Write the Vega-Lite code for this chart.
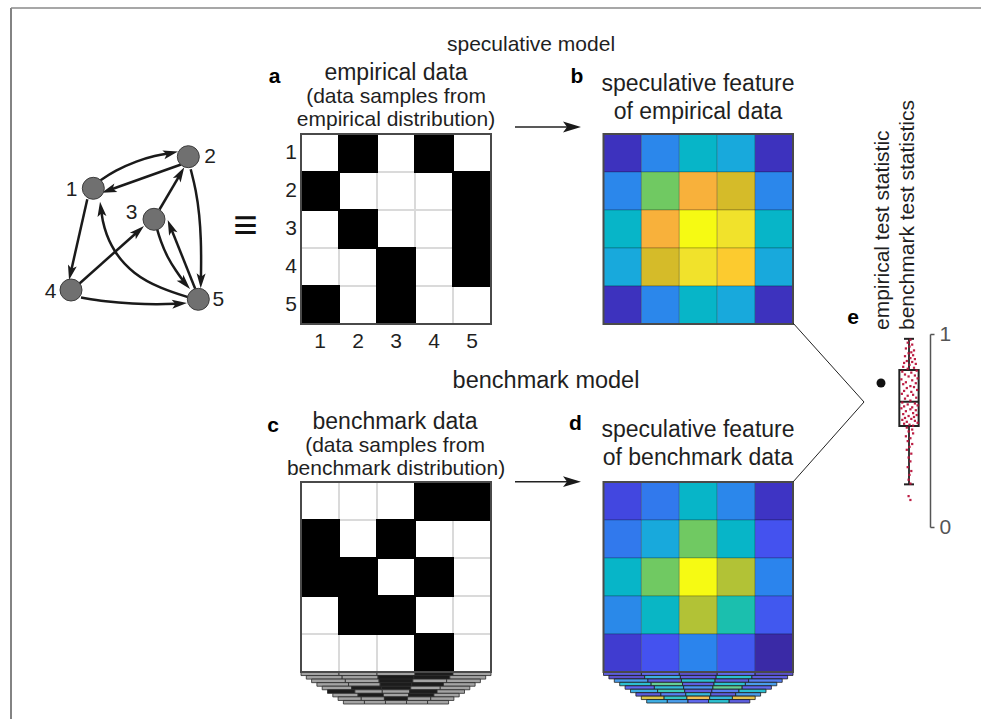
{
"$schema":"https://vega.github.io/schema/vega-lite/v6.json",
"width":981,"height":719,"padding":0,"autosize":{"type":"none"},
"background":"#ffffff",
"config":{"view":{"stroke":null},"font":"Liberation Sans","text":{"font":"Liberation Sans","color":"#1f1f1f"}},
"datasets":{
"idx":[{"i":1},{"i":2},{"i":3},{"i":4},{"i":5}],
"ma":[{"r":1,"c":1,"v":0},{"r":1,"c":2,"v":1},{"r":1,"c":3,"v":0},{"r":1,"c":4,"v":1},{"r":1,"c":5,"v":0},
{"r":2,"c":1,"v":1},{"r":2,"c":2,"v":0},{"r":2,"c":3,"v":0},{"r":2,"c":4,"v":0},{"r":2,"c":5,"v":1},
{"r":3,"c":1,"v":0},{"r":3,"c":2,"v":1},{"r":3,"c":3,"v":0},{"r":3,"c":4,"v":0},{"r":3,"c":5,"v":1},
{"r":4,"c":1,"v":0},{"r":4,"c":2,"v":0},{"r":4,"c":3,"v":1},{"r":4,"c":4,"v":0},{"r":4,"c":5,"v":1},
{"r":5,"c":1,"v":1},{"r":5,"c":2,"v":0},{"r":5,"c":3,"v":1},{"r":5,"c":4,"v":0},{"r":5,"c":5,"v":0}],
"mc":[{"r":1,"c":1,"v":0},{"r":1,"c":2,"v":0},{"r":1,"c":3,"v":0},{"r":1,"c":4,"v":1},{"r":1,"c":5,"v":1},
{"r":2,"c":1,"v":1},{"r":2,"c":2,"v":0},{"r":2,"c":3,"v":1},{"r":2,"c":4,"v":0},{"r":2,"c":5,"v":0},
{"r":3,"c":1,"v":1},{"r":3,"c":2,"v":1},{"r":3,"c":3,"v":0},{"r":3,"c":4,"v":1},{"r":3,"c":5,"v":0},
{"r":4,"c":1,"v":0},{"r":4,"c":2,"v":1},{"r":4,"c":3,"v":1},{"r":4,"c":4,"v":0},{"r":4,"c":5,"v":0},
{"r":5,"c":1,"v":0},{"r":5,"c":2,"v":0},{"r":5,"c":3,"v":0},{"r":5,"c":4,"v":1},{"r":5,"c":5,"v":0}],
"mb":[{"r":1,"c":1,"v":0.04},{"r":1,"c":2,"v":0.27},{"r":1,"c":3,"v":0.45},{"r":1,"c":4,"v":0.37},{"r":1,"c":5,"v":0.04},
{"r":2,"c":1,"v":0.27},{"r":2,"c":2,"v":0.64},{"r":2,"c":3,"v":0.87},{"r":2,"c":4,"v":0.8},{"r":2,"c":5,"v":0.27},
{"r":3,"c":1,"v":0.45},{"r":3,"c":2,"v":0.87},{"r":3,"c":3,"v":1.0},{"r":3,"c":4,"v":0.96},{"r":3,"c":5,"v":0.45},
{"r":4,"c":1,"v":0.37},{"r":4,"c":2,"v":0.8},{"r":4,"c":3,"v":0.96},{"r":4,"c":4,"v":0.92},{"r":4,"c":5,"v":0.37},
{"r":5,"c":1,"v":0.04},{"r":5,"c":2,"v":0.27},{"r":5,"c":3,"v":0.45},{"r":5,"c":4,"v":0.37},{"r":5,"c":5,"v":0.04}],
"md":[{"r":1,"c":1,"v":0.12},{"r":1,"c":2,"v":0.23},{"r":1,"c":3,"v":0.45},{"r":1,"c":4,"v":0.27},{"r":1,"c":5,"v":0.05},
{"r":2,"c":1,"v":0.23},{"r":2,"c":2,"v":0.37},{"r":2,"c":3,"v":0.64},{"r":2,"c":4,"v":0.45},{"r":2,"c":5,"v":0.16},
{"r":3,"c":1,"v":0.45},{"r":3,"c":2,"v":0.64},{"r":3,"c":3,"v":1.0},{"r":3,"c":4,"v":0.74},{"r":3,"c":5,"v":0.25},
{"r":4,"c":1,"v":0.28},{"r":4,"c":2,"v":0.46},{"r":4,"c":3,"v":0.74},{"r":4,"c":4,"v":0.55},{"r":4,"c":5,"v":0.17},
{"r":5,"c":1,"v":0.08},{"r":5,"c":2,"v":0.16},{"r":5,"c":3,"v":0.25},{"r":5,"c":4,"v":0.17},{"r":5,"c":5,"v":0.0}],
"cs":[{"k":1,"c":1,"v":0},{"k":1,"c":2,"v":0},{"k":1,"c":3,"v":0},{"k":1,"c":4,"v":1},{"k":1,"c":5,"v":0},
{"k":2,"c":1,"v":0},{"k":2,"c":2,"v":0},{"k":2,"c":3,"v":1},{"k":2,"c":4,"v":1},{"k":2,"c":5,"v":0},
{"k":3,"c":1,"v":0},{"k":3,"c":2,"v":0},{"k":3,"c":3,"v":1},{"k":3,"c":4,"v":0},{"k":3,"c":5,"v":0},
{"k":4,"c":1,"v":0},{"k":4,"c":2,"v":0},{"k":4,"c":3,"v":1},{"k":4,"c":4,"v":1},{"k":4,"c":5,"v":0},
{"k":5,"c":1,"v":0},{"k":5,"c":2,"v":1},{"k":5,"c":3,"v":1},{"k":5,"c":4,"v":0},{"k":5,"c":5,"v":0},
{"k":6,"c":1,"v":1},{"k":6,"c":2,"v":0},{"k":6,"c":3,"v":0},{"k":6,"c":4,"v":1},{"k":6,"c":5,"v":0},
{"k":7,"c":1,"v":0},{"k":7,"c":2,"v":1},{"k":7,"c":3,"v":0},{"k":7,"c":4,"v":1},{"k":7,"c":5,"v":0},
{"k":8,"c":1,"v":0},{"k":8,"c":2,"v":0},{"k":8,"c":3,"v":1},{"k":8,"c":4,"v":0},{"k":8,"c":5,"v":0},
{"k":9,"c":1,"v":0},{"k":9,"c":2,"v":0},{"k":9,"c":3,"v":0},{"k":9,"c":4,"v":0},{"k":9,"c":5,"v":0}],
"ds":[{"k":1,"c":1,"v":0.1},{"k":1,"c":2,"v":0.15},{"k":1,"c":3,"v":0.05},{"k":1,"c":4,"v":0.15},{"k":1,"c":5,"v":0.05},
{"k":2,"c":1,"v":0.05},{"k":2,"c":2,"v":0.35},{"k":2,"c":3,"v":0.1},{"k":2,"c":4,"v":0.45},{"k":2,"c":5,"v":0.1},
{"k":3,"c":1,"v":0.3},{"k":3,"c":2,"v":0.1},{"k":3,"c":3,"v":0.45},{"k":3,"c":4,"v":0.1},{"k":3,"c":5,"v":0.2},
{"k":4,"c":1,"v":0.45},{"k":4,"c":2,"v":0.6},{"k":4,"c":3,"v":0.1},{"k":4,"c":4,"v":0.45},{"k":4,"c":5,"v":0.3},
{"k":5,"c":1,"v":0.15},{"k":5,"c":2,"v":0.4},{"k":5,"c":3,"v":0.25},{"k":5,"c":4,"v":0.6},{"k":5,"c":5,"v":0.15},
{"k":6,"c":1,"v":0.35},{"k":6,"c":2,"v":0.55},{"k":6,"c":3,"v":0.1},{"k":6,"c":4,"v":0.2},{"k":6,"c":5,"v":0.45},
{"k":7,"c":1,"v":0.1},{"k":7,"c":2,"v":0.2},{"k":7,"c":3,"v":0.4},{"k":7,"c":4,"v":0.1},{"k":7,"c":5,"v":0.3},
{"k":8,"c":1,"v":0.8},{"k":8,"c":2,"v":0.5},{"k":8,"c":3,"v":0.85},{"k":8,"c":4,"v":0.4},{"k":8,"c":5,"v":0.82},
{"k":9,"c":1,"v":0.35},{"k":9,"c":2,"v":0.3},{"k":9,"c":3,"v":0.15},{"k":9,"c":4,"v":0.45},{"k":9,"c":5,"v":0.1}],
"nodes":[{"id":"1","x":93.3,"y":188.3,"lx":71.7,"ly":190},{"id":"2","x":188.3,"y":156.7,"lx":210,"ly":156.7},{"id":"3","x":154,"y":219.3,"lx":131.7,"ly":213},{"id":"4","x":71,"y":290,"lx":50.7,"ly":291.7},{"id":"5","x":198.3,"y":299.3,"lx":218.3,"ly":300}],
"edges":[
{"e":"12","i":0,"x":99.5,"y":181},{"e":"12","i":1,"x":115,"y":170.5},{"e":"12","i":2,"x":137,"y":161},{"e":"12","i":3,"x":155,"y":155.5},{"e":"12","i":4,"x":170.7,"y":153.2},
{"e":"21","i":0,"x":181,"y":164.5},{"e":"21","i":1,"x":108.8,"y":190.2},
{"e":"14","i":0,"x":87.3,"y":199.3},{"e":"14","i":1,"x":70.7,"y":272.7},
{"e":"43","i":0,"x":79.5,"y":283.5},{"e":"43","i":1,"x":138.4,"y":231},
{"e":"45","i":0,"x":81,"y":297.5},{"e":"45","i":1,"x":105,"y":301.5},{"e":"45","i":2,"x":133,"y":303.8},{"e":"45","i":3,"x":158,"y":304.5},{"e":"45","i":4,"x":179.5,"y":303.6},
{"e":"32","i":0,"x":159.5,"y":209.5},{"e":"32","i":1,"x":180.5,"y":173.8},
{"e":"25","i":0,"x":190.7,"y":169.3},{"e":"25","i":1,"x":196,"y":190},{"e":"25","i":2,"x":199.5,"y":215},{"e":"25","i":3,"x":201,"y":240},{"e":"25","i":4,"x":201.2,"y":262},{"e":"25","i":5,"x":200.9,"y":280.8},
{"e":"35","i":0,"x":156.5,"y":227},{"e":"35","i":1,"x":160.5,"y":241},{"e":"35","i":2,"x":167.5,"y":257.5},{"e":"35","i":3,"x":176,"y":271},{"e":"35","i":4,"x":185,"y":283.4},
{"e":"53","i":0,"x":196,"y":290.7},{"e":"53","i":1,"x":170.5,"y":227},
{"e":"51","i":0,"x":191.7,"y":298.3},{"e":"51","i":1,"x":160,"y":288.3},{"e":"51","i":2,"x":133.3,"y":274},{"e":"51","i":3,"x":113.3,"y":251.7},{"e":"51","i":4,"x":103.3,"y":226.7},{"e":"51","i":5,"x":101,"y":209.1}],
"heads":[{"e":"12","x":170.7,"y":153.2,"a":76.5},{"e":"21","x":108.8,"y":190.2,"a":250.5},{"e":"14","x":70.7,"y":272.7,"a":192.8},{"e":"43","x":138.4,"y":231,"a":48.2},{"e":"45","x":179.5,"y":303.6,"a":85.8},{"e":"32","x":180.5,"y":173.8,"a":30.1},{"e":"25","x":200.9,"y":280.8,"a":181.5},{"e":"35","x":185,"y":283.4,"a":138.2},{"e":"53","x":170.5,"y":227,"a":338.2},{"e":"51","x":101,"y":209.1,"a":352.5}],
"box":[{"g":"benchmark","lo":0.221,"q1":0.523,"med":0.649,"q3":0.813,"hi":0.975}],
"emp":[{"g":"empirical","v":0.746}],
"pts":[
{"v":0.97,"j":0.1},{"v":0.955,"j":-0.2},{"v":0.945,"j":0.3},{"v":0.935,"j":0.0},{"v":0.925,"j":-0.4},{"v":0.915,"j":0.5},{"v":0.905,"j":0.2},{"v":0.9,"j":-0.1},{"v":0.89,"j":0.4},{"v":0.885,"j":-0.5},
{"v":0.875,"j":0.1},{"v":0.87,"j":0.6},{"v":0.86,"j":-0.3},{"v":0.855,"j":0.3},{"v":0.85,"j":-0.6},{"v":0.845,"j":0.7},{"v":0.84,"j":0.0},{"v":0.83,"j":-0.7},{"v":0.825,"j":0.5},{"v":0.82,"j":-0.2},
{"v":0.81,"j":0.8},{"v":0.805,"j":-0.8},{"v":0.8,"j":0.2},{"v":0.79,"j":-0.5},{"v":0.785,"j":0.6},{"v":0.78,"j":-0.1},{"v":0.77,"j":0.9},{"v":0.765,"j":-0.9},{"v":0.76,"j":0.3},{"v":0.75,"j":-0.4},
{"v":0.745,"j":0.7},{"v":0.74,"j":-0.7},{"v":0.73,"j":0.1},{"v":0.725,"j":0.5},{"v":0.72,"j":-0.3},{"v":0.71,"j":0.85},{"v":0.705,"j":-0.6},{"v":0.7,"j":0.2},{"v":0.69,"j":-0.85},{"v":0.685,"j":0.4},
{"v":0.68,"j":-0.2},{"v":0.67,"j":0.75},{"v":0.665,"j":-0.5},{"v":0.655,"j":0.1},
{"v":0.645,"j":-0.8},{"v":0.64,"j":0.6},{"v":0.635,"j":-0.2},{"v":0.63,"j":0.9},{"v":0.625,"j":-0.6},{"v":0.62,"j":0.3},{"v":0.615,"j":-0.9},{"v":0.61,"j":0.1},{"v":0.605,"j":0.7},{"v":0.6,"j":-0.4},
{"v":0.59,"j":0.4},{"v":0.585,"j":-0.7},{"v":0.58,"j":0.8},{"v":0.575,"j":-0.1},{"v":0.57,"j":0.5},{"v":0.565,"j":-0.5},{"v":0.56,"j":0.2},{"v":0.555,"j":-0.8},{"v":0.55,"j":0.6},{"v":0.545,"j":-0.3},
{"v":0.54,"j":0.9},{"v":0.535,"j":-0.6},{"v":0.53,"j":0.0},{"v":0.525,"j":0.4},
{"v":0.515,"j":-0.3},{"v":0.505,"j":0.3},{"v":0.495,"j":-0.1},{"v":0.485,"j":0.4},{"v":0.47,"j":-0.4},{"v":0.46,"j":0.1},{"v":0.445,"j":-0.2},{"v":0.43,"j":0.3},{"v":0.415,"j":0.0},{"v":0.4,"j":-0.3},
{"v":0.38,"j":0.2},{"v":0.36,"j":-0.1},{"v":0.34,"j":0.1},{"v":0.31,"j":-0.2},{"v":0.29,"j":0.2},{"v":0.27,"j":0.0},{"v":0.245,"j":-0.1},{"v":0.225,"j":0.1},{"v":0.16,"j":-0.1},{"v":0.14,"j":0.1}]
},
"layer":[
{"data":{"name":"ma"},"layer":[
 {"mark":{"type":"rect","strokeWidth":2},"encoding":{
  "x":{"field":"c","type":"ordinal","scale":{"domain":[1,2,3,4,5],"range":[301,491],"paddingInner":0,"paddingOuter":0},"axis":null},
  "y":{"field":"r","type":"ordinal","scale":{"domain":[1,2,3,4,5],"range":[134,324],"paddingInner":0,"paddingOuter":0},"axis":null},
  "fill":{"field":"v","type":"nominal","scale":{"domain":[0,1],"range":["#ffffff","#000000"]},"legend":null},
  "stroke":{"field":"v","type":"nominal","scale":{"domain":[0,1],"range":["#dadada","#000000"]},"legend":null},
  "order":{"field":"v","type":"quantitative"}}},
 {"data":{"name":"idx"},"mark":{"type":"text","fontSize":21,"align":"right","baseline":"middle","dx":-23},"encoding":{
  "x":{"datum":1,"type":"ordinal","scale":{"domain":[1,2,3,4,5],"range":[301,491],"paddingInner":0,"paddingOuter":0},"axis":null},
  "y":{"field":"i","type":"ordinal","scale":{"domain":[1,2,3,4,5],"range":[134,324],"paddingInner":0,"paddingOuter":0},"axis":null},
  "text":{"field":"i","type":"nominal"}}},
 {"data":{"name":"idx"},"mark":{"type":"text","fontSize":21,"align":"center","baseline":"middle","dy":37},"encoding":{
  "x":{"field":"i","type":"ordinal","scale":{"domain":[1,2,3,4,5],"range":[301,491],"paddingInner":0,"paddingOuter":0},"axis":null},
  "y":{"datum":5,"type":"ordinal","scale":{"domain":[1,2,3,4,5],"range":[134,324],"paddingInner":0,"paddingOuter":0},"axis":null},
  "text":{"field":"i","type":"nominal"}}}
]},
{"data":{"name":"mb"},"mark":{"type":"rect","stroke":"#000000","strokeOpacity":0.22,"strokeWidth":1},"encoding":{
  "x":{"field":"c","type":"ordinal","scale":{"domain":[1,2,3,4,5],"range":[603.5,793],"paddingInner":0,"paddingOuter":0},"axis":null},
  "y":{"field":"r","type":"ordinal","scale":{"domain":[1,2,3,4,5],"range":[134,324],"paddingInner":0,"paddingOuter":0},"axis":null},
  "fill":{"field":"v","type":"quantitative","scale":{"domain":[0,0.05,0.1,0.16,0.25,0.3,0.37,0.45,0.55,0.64,0.74,0.8,0.87,0.92,0.96,1],"range":["#3a2aa6","#3e34c4","#4142d8","#4452ef","#2b84ed","#2a8ce7","#18a9dc","#07b5c8","#1bbfae","#70c962","#b2c236","#d5bb29","#f8b13b","#fccb2f","#f1e22b","#f6fa13"],"interpolate":"rgb"},"legend":null}}},
{"data":{"name":"mc"},"mark":{"type":"rect","strokeWidth":2},"encoding":{
  "x":{"field":"c","type":"ordinal","scale":{"domain":[1,2,3,4,5],"range":[301,491],"paddingInner":0,"paddingOuter":0},"axis":null},
  "y":{"field":"r","type":"ordinal","scale":{"domain":[1,2,3,4,5],"range":[482,672],"paddingInner":0,"paddingOuter":0},"axis":null},
  "fill":{"field":"v","type":"nominal","scale":{"domain":[0,1],"range":["#ffffff","#000000"]},"legend":null},
  "stroke":{"field":"v","type":"nominal","scale":{"domain":[0,1],"range":["#dadada","#000000"]},"legend":null},
  "order":{"field":"v","type":"quantitative"}}},
{"data":{"name":"md"},"mark":{"type":"rect","stroke":"#000000","strokeOpacity":0.22,"strokeWidth":1},"encoding":{
  "x":{"field":"c","type":"ordinal","scale":{"domain":[1,2,3,4,5],"range":[603.5,793],"paddingInner":0,"paddingOuter":0},"axis":null},
  "y":{"field":"r","type":"ordinal","scale":{"domain":[1,2,3,4,5],"range":[482,672],"paddingInner":0,"paddingOuter":0},"axis":null},
  "fill":{"field":"v","type":"quantitative","scale":{"domain":[0,0.05,0.1,0.16,0.25,0.3,0.37,0.45,0.55,0.64,0.74,0.8,0.87,0.92,0.96,1],"range":["#3a2aa6","#3e34c4","#4142d8","#4452ef","#2b84ed","#2a8ce7","#18a9dc","#07b5c8","#1bbfae","#70c962","#b2c236","#d5bb29","#f8b13b","#fccb2f","#f1e22b","#f6fa13"],"interpolate":"rgb"},"legend":null}}},
{"data":{"name":"cs"},"transform":[{"filter":"datum.k == 1"}],"mark":{"type":"rect","stroke":"#2a2a2a","strokeWidth":0.8},"encoding":{"x":{"field":"c","type":"ordinal","scale":{"domain":[1,2,3,4,5],"range":[301,491],"paddingInner":0,"paddingOuter":0},"axis":null},"y":{"field":"k","type":"ordinal","scale":{"domain":[1,2,3,4,5,6,7,8,9],"range":[672,704],"paddingInner":0,"paddingOuter":0},"axis":null},"fill":{"field":"v","type":"nominal","scale":{"domain":[0,1],"range":["#a3a3a3","#1c1c1c"]},"legend":null}}},
{"data":{"name":"cs"},"transform":[{"filter":"datum.k == 2"}],"mark":{"type":"rect","stroke":"#2a2a2a","strokeWidth":0.8},"encoding":{"x":{"field":"c","type":"ordinal","scale":{"domain":[1,2,3,4,5],"range":[306.3,485.7],"paddingInner":0,"paddingOuter":0},"axis":null},"y":{"field":"k","type":"ordinal","scale":{"domain":[1,2,3,4,5,6,7,8,9],"range":[672,704],"paddingInner":0,"paddingOuter":0},"axis":null},"fill":{"field":"v","type":"nominal","scale":{"domain":[0,1],"range":["#a3a3a3","#1c1c1c"]},"legend":null}}},
{"data":{"name":"cs"},"transform":[{"filter":"datum.k == 3"}],"mark":{"type":"rect","stroke":"#2a2a2a","strokeWidth":0.8},"encoding":{"x":{"field":"c","type":"ordinal","scale":{"domain":[1,2,3,4,5],"range":[311.6,480.4],"paddingInner":0,"paddingOuter":0},"axis":null},"y":{"field":"k","type":"ordinal","scale":{"domain":[1,2,3,4,5,6,7,8,9],"range":[672,704],"paddingInner":0,"paddingOuter":0},"axis":null},"fill":{"field":"v","type":"nominal","scale":{"domain":[0,1],"range":["#a3a3a3","#1c1c1c"]},"legend":null}}},
{"data":{"name":"cs"},"transform":[{"filter":"datum.k == 4"}],"mark":{"type":"rect","stroke":"#2a2a2a","strokeWidth":0.8},"encoding":{"x":{"field":"c","type":"ordinal","scale":{"domain":[1,2,3,4,5],"range":[316.9,475.1],"paddingInner":0,"paddingOuter":0},"axis":null},"y":{"field":"k","type":"ordinal","scale":{"domain":[1,2,3,4,5,6,7,8,9],"range":[672,704],"paddingInner":0,"paddingOuter":0},"axis":null},"fill":{"field":"v","type":"nominal","scale":{"domain":[0,1],"range":["#a3a3a3","#1c1c1c"]},"legend":null}}},
{"data":{"name":"cs"},"transform":[{"filter":"datum.k == 5"}],"mark":{"type":"rect","stroke":"#2a2a2a","strokeWidth":0.8},"encoding":{"x":{"field":"c","type":"ordinal","scale":{"domain":[1,2,3,4,5],"range":[322.2,469.8],"paddingInner":0,"paddingOuter":0},"axis":null},"y":{"field":"k","type":"ordinal","scale":{"domain":[1,2,3,4,5,6,7,8,9],"range":[672,704],"paddingInner":0,"paddingOuter":0},"axis":null},"fill":{"field":"v","type":"nominal","scale":{"domain":[0,1],"range":["#a3a3a3","#1c1c1c"]},"legend":null}}},
{"data":{"name":"cs"},"transform":[{"filter":"datum.k == 6"}],"mark":{"type":"rect","stroke":"#2a2a2a","strokeWidth":0.8},"encoding":{"x":{"field":"c","type":"ordinal","scale":{"domain":[1,2,3,4,5],"range":[327.5,464.5],"paddingInner":0,"paddingOuter":0},"axis":null},"y":{"field":"k","type":"ordinal","scale":{"domain":[1,2,3,4,5,6,7,8,9],"range":[672,704],"paddingInner":0,"paddingOuter":0},"axis":null},"fill":{"field":"v","type":"nominal","scale":{"domain":[0,1],"range":["#a3a3a3","#1c1c1c"]},"legend":null}}},
{"data":{"name":"cs"},"transform":[{"filter":"datum.k == 7"}],"mark":{"type":"rect","stroke":"#2a2a2a","strokeWidth":0.8},"encoding":{"x":{"field":"c","type":"ordinal","scale":{"domain":[1,2,3,4,5],"range":[332.8,459.2],"paddingInner":0,"paddingOuter":0},"axis":null},"y":{"field":"k","type":"ordinal","scale":{"domain":[1,2,3,4,5,6,7,8,9],"range":[672,704],"paddingInner":0,"paddingOuter":0},"axis":null},"fill":{"field":"v","type":"nominal","scale":{"domain":[0,1],"range":["#a3a3a3","#1c1c1c"]},"legend":null}}},
{"data":{"name":"cs"},"transform":[{"filter":"datum.k == 8"}],"mark":{"type":"rect","stroke":"#2a2a2a","strokeWidth":0.8},"encoding":{"x":{"field":"c","type":"ordinal","scale":{"domain":[1,2,3,4,5],"range":[338.1,453.9],"paddingInner":0,"paddingOuter":0},"axis":null},"y":{"field":"k","type":"ordinal","scale":{"domain":[1,2,3,4,5,6,7,8,9],"range":[672,704],"paddingInner":0,"paddingOuter":0},"axis":null},"fill":{"field":"v","type":"nominal","scale":{"domain":[0,1],"range":["#a3a3a3","#1c1c1c"]},"legend":null}}},
{"data":{"name":"cs"},"transform":[{"filter":"datum.k == 9"}],"mark":{"type":"rect","stroke":"#2a2a2a","strokeWidth":0.8},"encoding":{"x":{"field":"c","type":"ordinal","scale":{"domain":[1,2,3,4,5],"range":[343.4,448.6],"paddingInner":0,"paddingOuter":0},"axis":null},"y":{"field":"k","type":"ordinal","scale":{"domain":[1,2,3,4,5,6,7,8,9],"range":[672,704],"paddingInner":0,"paddingOuter":0},"axis":null},"fill":{"field":"v","type":"nominal","scale":{"domain":[0,1],"range":["#a3a3a3","#1c1c1c"]},"legend":null}}},
{"data":{"name":"ds"},"transform":[{"filter":"datum.k == 1"}],"mark":{"type":"rect","stroke":"#222222","strokeWidth":0.8,"fillOpacity":0.85},"encoding":{"x":{"field":"c","type":"ordinal","scale":{"domain":[1,2,3,4,5],"range":[603.5,793],"paddingInner":0,"paddingOuter":0},"axis":null},"y":{"field":"k","type":"ordinal","scale":{"domain":[1,2,3,4,5,6,7,8,9],"range":[672,703],"paddingInner":0,"paddingOuter":0},"axis":null},"fill":{"field":"v","type":"quantitative","scale":{"domain":[0,0.05,0.1,0.16,0.25,0.3,0.37,0.45,0.55,0.64,0.74,0.8,0.87,0.92,0.96,1],"range":["#3a2aa6","#3e34c4","#4142d8","#4452ef","#2b84ed","#2a8ce7","#18a9dc","#07b5c8","#1bbfae","#70c962","#b2c236","#d5bb29","#f8b13b","#fccb2f","#f1e22b","#f6fa13"],"interpolate":"rgb"},"legend":null}}},
{"data":{"name":"ds"},"transform":[{"filter":"datum.k == 2"}],"mark":{"type":"rect","stroke":"#222222","strokeWidth":0.8,"fillOpacity":0.85},"encoding":{"x":{"field":"c","type":"ordinal","scale":{"domain":[1,2,3,4,5],"range":[608.9,787.6],"paddingInner":0,"paddingOuter":0},"axis":null},"y":{"field":"k","type":"ordinal","scale":{"domain":[1,2,3,4,5,6,7,8,9],"range":[672,703],"paddingInner":0,"paddingOuter":0},"axis":null},"fill":{"field":"v","type":"quantitative","scale":{"domain":[0,0.05,0.1,0.16,0.25,0.3,0.37,0.45,0.55,0.64,0.74,0.8,0.87,0.92,0.96,1],"range":["#3a2aa6","#3e34c4","#4142d8","#4452ef","#2b84ed","#2a8ce7","#18a9dc","#07b5c8","#1bbfae","#70c962","#b2c236","#d5bb29","#f8b13b","#fccb2f","#f1e22b","#f6fa13"],"interpolate":"rgb"},"legend":null}}},
{"data":{"name":"ds"},"transform":[{"filter":"datum.k == 3"}],"mark":{"type":"rect","stroke":"#222222","strokeWidth":0.8,"fillOpacity":0.85},"encoding":{"x":{"field":"c","type":"ordinal","scale":{"domain":[1,2,3,4,5],"range":[614.3,782.2],"paddingInner":0,"paddingOuter":0},"axis":null},"y":{"field":"k","type":"ordinal","scale":{"domain":[1,2,3,4,5,6,7,8,9],"range":[672,703],"paddingInner":0,"paddingOuter":0},"axis":null},"fill":{"field":"v","type":"quantitative","scale":{"domain":[0,0.05,0.1,0.16,0.25,0.3,0.37,0.45,0.55,0.64,0.74,0.8,0.87,0.92,0.96,1],"range":["#3a2aa6","#3e34c4","#4142d8","#4452ef","#2b84ed","#2a8ce7","#18a9dc","#07b5c8","#1bbfae","#70c962","#b2c236","#d5bb29","#f8b13b","#fccb2f","#f1e22b","#f6fa13"],"interpolate":"rgb"},"legend":null}}},
{"data":{"name":"ds"},"transform":[{"filter":"datum.k == 4"}],"mark":{"type":"rect","stroke":"#222222","strokeWidth":0.8,"fillOpacity":0.85},"encoding":{"x":{"field":"c","type":"ordinal","scale":{"domain":[1,2,3,4,5],"range":[619.7,776.8],"paddingInner":0,"paddingOuter":0},"axis":null},"y":{"field":"k","type":"ordinal","scale":{"domain":[1,2,3,4,5,6,7,8,9],"range":[672,703],"paddingInner":0,"paddingOuter":0},"axis":null},"fill":{"field":"v","type":"quantitative","scale":{"domain":[0,0.05,0.1,0.16,0.25,0.3,0.37,0.45,0.55,0.64,0.74,0.8,0.87,0.92,0.96,1],"range":["#3a2aa6","#3e34c4","#4142d8","#4452ef","#2b84ed","#2a8ce7","#18a9dc","#07b5c8","#1bbfae","#70c962","#b2c236","#d5bb29","#f8b13b","#fccb2f","#f1e22b","#f6fa13"],"interpolate":"rgb"},"legend":null}}},
{"data":{"name":"ds"},"transform":[{"filter":"datum.k == 5"}],"mark":{"type":"rect","stroke":"#222222","strokeWidth":0.8,"fillOpacity":0.85},"encoding":{"x":{"field":"c","type":"ordinal","scale":{"domain":[1,2,3,4,5],"range":[625.1,771.4],"paddingInner":0,"paddingOuter":0},"axis":null},"y":{"field":"k","type":"ordinal","scale":{"domain":[1,2,3,4,5,6,7,8,9],"range":[672,703],"paddingInner":0,"paddingOuter":0},"axis":null},"fill":{"field":"v","type":"quantitative","scale":{"domain":[0,0.05,0.1,0.16,0.25,0.3,0.37,0.45,0.55,0.64,0.74,0.8,0.87,0.92,0.96,1],"range":["#3a2aa6","#3e34c4","#4142d8","#4452ef","#2b84ed","#2a8ce7","#18a9dc","#07b5c8","#1bbfae","#70c962","#b2c236","#d5bb29","#f8b13b","#fccb2f","#f1e22b","#f6fa13"],"interpolate":"rgb"},"legend":null}}},
{"data":{"name":"ds"},"transform":[{"filter":"datum.k == 6"}],"mark":{"type":"rect","stroke":"#222222","strokeWidth":0.8,"fillOpacity":0.85},"encoding":{"x":{"field":"c","type":"ordinal","scale":{"domain":[1,2,3,4,5],"range":[630.5,766],"paddingInner":0,"paddingOuter":0},"axis":null},"y":{"field":"k","type":"ordinal","scale":{"domain":[1,2,3,4,5,6,7,8,9],"range":[672,703],"paddingInner":0,"paddingOuter":0},"axis":null},"fill":{"field":"v","type":"quantitative","scale":{"domain":[0,0.05,0.1,0.16,0.25,0.3,0.37,0.45,0.55,0.64,0.74,0.8,0.87,0.92,0.96,1],"range":["#3a2aa6","#3e34c4","#4142d8","#4452ef","#2b84ed","#2a8ce7","#18a9dc","#07b5c8","#1bbfae","#70c962","#b2c236","#d5bb29","#f8b13b","#fccb2f","#f1e22b","#f6fa13"],"interpolate":"rgb"},"legend":null}}},
{"data":{"name":"ds"},"transform":[{"filter":"datum.k == 7"}],"mark":{"type":"rect","stroke":"#222222","strokeWidth":0.8,"fillOpacity":0.85},"encoding":{"x":{"field":"c","type":"ordinal","scale":{"domain":[1,2,3,4,5],"range":[635.9,760.6],"paddingInner":0,"paddingOuter":0},"axis":null},"y":{"field":"k","type":"ordinal","scale":{"domain":[1,2,3,4,5,6,7,8,9],"range":[672,703],"paddingInner":0,"paddingOuter":0},"axis":null},"fill":{"field":"v","type":"quantitative","scale":{"domain":[0,0.05,0.1,0.16,0.25,0.3,0.37,0.45,0.55,0.64,0.74,0.8,0.87,0.92,0.96,1],"range":["#3a2aa6","#3e34c4","#4142d8","#4452ef","#2b84ed","#2a8ce7","#18a9dc","#07b5c8","#1bbfae","#70c962","#b2c236","#d5bb29","#f8b13b","#fccb2f","#f1e22b","#f6fa13"],"interpolate":"rgb"},"legend":null}}},
{"data":{"name":"ds"},"transform":[{"filter":"datum.k == 8"}],"mark":{"type":"rect","stroke":"#222222","strokeWidth":0.8,"fillOpacity":0.85},"encoding":{"x":{"field":"c","type":"ordinal","scale":{"domain":[1,2,3,4,5],"range":[641.3,755.2],"paddingInner":0,"paddingOuter":0},"axis":null},"y":{"field":"k","type":"ordinal","scale":{"domain":[1,2,3,4,5,6,7,8,9],"range":[672,703],"paddingInner":0,"paddingOuter":0},"axis":null},"fill":{"field":"v","type":"quantitative","scale":{"domain":[0,0.05,0.1,0.16,0.25,0.3,0.37,0.45,0.55,0.64,0.74,0.8,0.87,0.92,0.96,1],"range":["#3a2aa6","#3e34c4","#4142d8","#4452ef","#2b84ed","#2a8ce7","#18a9dc","#07b5c8","#1bbfae","#70c962","#b2c236","#d5bb29","#f8b13b","#fccb2f","#f1e22b","#f6fa13"],"interpolate":"rgb"},"legend":null}}},
{"data":{"name":"ds"},"transform":[{"filter":"datum.k == 9"}],"mark":{"type":"rect","stroke":"#222222","strokeWidth":0.8,"fillOpacity":0.85},"encoding":{"x":{"field":"c","type":"ordinal","scale":{"domain":[1,2,3,4,5],"range":[646.7,749.8],"paddingInner":0,"paddingOuter":0},"axis":null},"y":{"field":"k","type":"ordinal","scale":{"domain":[1,2,3,4,5,6,7,8,9],"range":[672,703],"paddingInner":0,"paddingOuter":0},"axis":null},"fill":{"field":"v","type":"quantitative","scale":{"domain":[0,0.05,0.1,0.16,0.25,0.3,0.37,0.45,0.55,0.64,0.74,0.8,0.87,0.92,0.96,1],"range":["#3a2aa6","#3e34c4","#4142d8","#4452ef","#2b84ed","#2a8ce7","#18a9dc","#07b5c8","#1bbfae","#70c962","#b2c236","#d5bb29","#f8b13b","#fccb2f","#f1e22b","#f6fa13"],"interpolate":"rgb"},"legend":null}}},
{"data":{"values":[{}]},"layer":[
 {"mark":{"type":"rule","stroke":"#5a5a5a","strokeWidth":1.5},"encoding":{"x":{"datum":11,"scale":{"domain":[0,1000],"range":[0,1000],"nice":false},"axis":null},"y":{"datum":8,"scale":{"domain":[0,800],"range":[0,800],"nice":false},"axis":null},"y2":{"datum":719}}},
 {"mark":{"type":"rule","stroke":"#8a8a8a","strokeWidth":1.5},"encoding":{"x":{"datum":11,"scale":{"domain":[0,1000],"range":[0,1000],"nice":false},"axis":null},"x2":{"datum":981},"y":{"datum":8,"scale":{"domain":[0,800],"range":[0,800],"nice":false},"axis":null}}},
 {"mark":{"type":"rect","fillOpacity":0,"stroke":"#4a4a4a","strokeWidth":2},"encoding":{"x":{"datum":301,"scale":{"domain":[0,1000],"range":[0,1000],"nice":false},"axis":null},"x2":{"datum":491},"y":{"datum":134,"scale":{"domain":[0,800],"range":[0,800],"nice":false},"axis":null},"y2":{"datum":324}}},
 {"mark":{"type":"rect","fillOpacity":0,"stroke":"#4a4a4a","strokeWidth":2},"encoding":{"x":{"datum":603.5,"scale":{"domain":[0,1000],"range":[0,1000],"nice":false},"axis":null},"x2":{"datum":793},"y":{"datum":134,"scale":{"domain":[0,800],"range":[0,800],"nice":false},"axis":null},"y2":{"datum":324}}},
 {"mark":{"type":"rect","fillOpacity":0,"stroke":"#4a4a4a","strokeWidth":2},"encoding":{"x":{"datum":301,"scale":{"domain":[0,1000],"range":[0,1000],"nice":false},"axis":null},"x2":{"datum":491},"y":{"datum":482,"scale":{"domain":[0,800],"range":[0,800],"nice":false},"axis":null},"y2":{"datum":672}}},
 {"mark":{"type":"rect","fillOpacity":0,"stroke":"#4a4a4a","strokeWidth":2},"encoding":{"x":{"datum":603.5,"scale":{"domain":[0,1000],"range":[0,1000],"nice":false},"axis":null},"x2":{"datum":793},"y":{"datum":482,"scale":{"domain":[0,800],"range":[0,800],"nice":false},"axis":null},"y2":{"datum":672}}},
 {"mark":{"type":"rule","stroke":"#222222","strokeWidth":1.5},"encoding":{"x":{"datum":515,"scale":{"domain":[0,1000],"range":[0,1000],"nice":false},"axis":null},"x2":{"datum":572},"y":{"datum":127,"scale":{"domain":[0,800],"range":[0,800],"nice":false},"axis":null}}},
 {"mark":{"type":"point","filled":true,"opacity":1,"color":"#1a1a1a","shape":"M0,-1L0.6,1L0,0.55L-0.6,1Z","size":324,"angle":90},"encoding":{"x":{"datum":572,"scale":{"domain":[0,1000],"range":[0,1000],"nice":false},"axis":null},"y":{"datum":127,"scale":{"domain":[0,800],"range":[0,800],"nice":false},"axis":null}}},
 {"mark":{"type":"rule","stroke":"#222222","strokeWidth":1.5},"encoding":{"x":{"datum":515,"scale":{"domain":[0,1000],"range":[0,1000],"nice":false},"axis":null},"x2":{"datum":572},"y":{"datum":481.7,"scale":{"domain":[0,800],"range":[0,800],"nice":false},"axis":null}}},
 {"mark":{"type":"point","filled":true,"opacity":1,"color":"#1a1a1a","shape":"M0,-1L0.6,1L0,0.55L-0.6,1Z","size":324,"angle":90},"encoding":{"x":{"datum":572,"scale":{"domain":[0,1000],"range":[0,1000],"nice":false},"axis":null},"y":{"datum":481.7,"scale":{"domain":[0,800],"range":[0,800],"nice":false},"axis":null}}},
 {"mark":{"type":"rule","stroke":"#222222","strokeWidth":1},"encoding":{"x":{"datum":793,"scale":{"domain":[0,1000],"range":[0,1000],"nice":false},"axis":null},"x2":{"datum":864},"y":{"datum":323,"scale":{"domain":[0,800],"range":[0,800],"nice":false},"axis":null},"y2":{"datum":402}}},
 {"mark":{"type":"rule","stroke":"#222222","strokeWidth":1},"encoding":{"x":{"datum":864,"scale":{"domain":[0,1000],"range":[0,1000],"nice":false},"axis":null},"x2":{"datum":793},"y":{"datum":402,"scale":{"domain":[0,800],"range":[0,800],"nice":false},"axis":null},"y2":{"datum":482}}},
 {"data":{"name":"edges"},"mark":{"type":"line","stroke":"#1a1a1a","strokeWidth":2.5,"interpolate":"basis"},"encoding":{"x":{"field":"x","type":"quantitative","scale":{"domain":[0,1000],"range":[0,1000],"nice":false},"axis":null},"y":{"field":"y","type":"quantitative","scale":{"domain":[0,800],"range":[0,800],"nice":false},"axis":null},"detail":{"field":"e","type":"nominal"},"order":{"field":"i","type":"quantitative"}}},
 {"data":{"name":"heads"},"mark":{"type":"point","filled":true,"opacity":1,"color":"#1a1a1a","shape":"M0,-1L0.6,1L0,0.55L-0.6,1Z","size":225},"encoding":{"x":{"field":"x","type":"quantitative","scale":{"domain":[0,1000],"range":[0,1000],"nice":false},"axis":null},"y":{"field":"y","type":"quantitative","scale":{"domain":[0,800],"range":[0,800],"nice":false},"axis":null},"angle":{"field":"a","type":"quantitative","scale":null}}},
 {"data":{"name":"nodes"},"mark":{"type":"point","filled":true,"opacity":1,"fill":"#707070","stroke":"#3c3c3c","strokeWidth":1,"shape":"circle","size":484},"encoding":{"x":{"field":"x","type":"quantitative","scale":{"domain":[0,1000],"range":[0,1000],"nice":false},"axis":null},"y":{"field":"y","type":"quantitative","scale":{"domain":[0,800],"range":[0,800],"nice":false},"axis":null}}},
 {"data":{"name":"nodes"},"mark":{"type":"text","fontSize":21,"align":"center","baseline":"middle"},"encoding":{"x":{"field":"lx","type":"quantitative","scale":{"domain":[0,1000],"range":[0,1000],"nice":false},"axis":null},"y":{"field":"ly","type":"quantitative","scale":{"domain":[0,800],"range":[0,800],"nice":false},"axis":null},"text":{"field":"id","type":"nominal"}}},
 {"mark":{"type":"text","text":"≡","font":"Liberation Sans","fontWeight":"bold","fontSize":42,"align":"center","baseline":"alphabetic","color":"#111111"},"encoding":{"x":{"datum":245.5,"scale":{"domain":[0,1000],"range":[0,1000],"nice":false},"axis":null},"y":{"datum":239,"scale":{"domain":[0,800],"range":[0,800],"nice":false},"axis":null}}},
 {"mark":{"type":"text","text":"speculative model","fontSize":21,"align":"center","baseline":"alphabetic"},"encoding":{"x":{"datum":531,"scale":{"domain":[0,1000],"range":[0,1000],"nice":false},"axis":null},"y":{"datum":51,"scale":{"domain":[0,800],"range":[0,800],"nice":false},"axis":null}}},
 {"mark":{"type":"text","text":"a","fontSize":21,"fontWeight":"bold","align":"center","baseline":"alphabetic","color":"#000000"},"encoding":{"x":{"datum":274.5,"scale":{"domain":[0,1000],"range":[0,1000],"nice":false},"axis":null},"y":{"datum":83,"scale":{"domain":[0,800],"range":[0,800],"nice":false},"axis":null}}},
 {"mark":{"type":"text","text":"empirical data","fontSize":23,"align":"center","baseline":"alphabetic"},"encoding":{"x":{"datum":396,"scale":{"domain":[0,1000],"range":[0,1000],"nice":false},"axis":null},"y":{"datum":80,"scale":{"domain":[0,800],"range":[0,800],"nice":false},"axis":null}}},
 {"mark":{"type":"text","text":"(data samples from","fontSize":21,"align":"center","baseline":"alphabetic"},"encoding":{"x":{"datum":396,"scale":{"domain":[0,1000],"range":[0,1000],"nice":false},"axis":null},"y":{"datum":103,"scale":{"domain":[0,800],"range":[0,800],"nice":false},"axis":null}}},
 {"mark":{"type":"text","text":"empirical distribution)","fontSize":21,"align":"center","baseline":"alphabetic"},"encoding":{"x":{"datum":396,"scale":{"domain":[0,1000],"range":[0,1000],"nice":false},"axis":null},"y":{"datum":126,"scale":{"domain":[0,800],"range":[0,800],"nice":false},"axis":null}}},
 {"mark":{"type":"text","text":"b","fontSize":21,"fontWeight":"bold","align":"center","baseline":"alphabetic","color":"#000000"},"encoding":{"x":{"datum":577,"scale":{"domain":[0,1000],"range":[0,1000],"nice":false},"axis":null},"y":{"datum":83,"scale":{"domain":[0,800],"range":[0,800],"nice":false},"axis":null}}},
 {"mark":{"type":"text","text":"speculative feature","fontSize":23,"align":"center","baseline":"alphabetic"},"encoding":{"x":{"datum":698,"scale":{"domain":[0,1000],"range":[0,1000],"nice":false},"axis":null},"y":{"datum":91,"scale":{"domain":[0,800],"range":[0,800],"nice":false},"axis":null}}},
 {"mark":{"type":"text","text":"of empirical data","fontSize":23,"align":"center","baseline":"alphabetic"},"encoding":{"x":{"datum":698,"scale":{"domain":[0,1000],"range":[0,1000],"nice":false},"axis":null},"y":{"datum":118.5,"scale":{"domain":[0,800],"range":[0,800],"nice":false},"axis":null}}},
 {"mark":{"type":"text","text":"benchmark model","fontSize":23.5,"align":"center","baseline":"alphabetic"},"encoding":{"x":{"datum":546,"scale":{"domain":[0,1000],"range":[0,1000],"nice":false},"axis":null},"y":{"datum":388,"scale":{"domain":[0,800],"range":[0,800],"nice":false},"axis":null}}},
 {"mark":{"type":"text","text":"c","fontSize":21,"fontWeight":"bold","align":"center","baseline":"alphabetic","color":"#000000"},"encoding":{"x":{"datum":273,"scale":{"domain":[0,1000],"range":[0,1000],"nice":false},"axis":null},"y":{"datum":432,"scale":{"domain":[0,800],"range":[0,800],"nice":false},"axis":null}}},
 {"mark":{"type":"text","text":"benchmark data","fontSize":23,"align":"center","baseline":"alphabetic"},"encoding":{"x":{"datum":395,"scale":{"domain":[0,1000],"range":[0,1000],"nice":false},"axis":null},"y":{"datum":428.5,"scale":{"domain":[0,800],"range":[0,800],"nice":false},"axis":null}}},
 {"mark":{"type":"text","text":"(data samples from","fontSize":21,"align":"center","baseline":"alphabetic"},"encoding":{"x":{"datum":395,"scale":{"domain":[0,1000],"range":[0,1000],"nice":false},"axis":null},"y":{"datum":452,"scale":{"domain":[0,800],"range":[0,800],"nice":false},"axis":null}}},
 {"mark":{"type":"text","text":"benchmark distribution)","fontSize":21,"align":"center","baseline":"alphabetic"},"encoding":{"x":{"datum":396,"scale":{"domain":[0,1000],"range":[0,1000],"nice":false},"axis":null},"y":{"datum":475,"scale":{"domain":[0,800],"range":[0,800],"nice":false},"axis":null}}},
 {"mark":{"type":"text","text":"d","fontSize":21,"fontWeight":"bold","align":"center","baseline":"alphabetic","color":"#000000"},"encoding":{"x":{"datum":575.5,"scale":{"domain":[0,1000],"range":[0,1000],"nice":false},"axis":null},"y":{"datum":430,"scale":{"domain":[0,800],"range":[0,800],"nice":false},"axis":null}}},
 {"mark":{"type":"text","text":"speculative feature","fontSize":23,"align":"center","baseline":"alphabetic"},"encoding":{"x":{"datum":698,"scale":{"domain":[0,1000],"range":[0,1000],"nice":false},"axis":null},"y":{"datum":437,"scale":{"domain":[0,800],"range":[0,800],"nice":false},"axis":null}}},
 {"mark":{"type":"text","text":"of benchmark data","fontSize":23,"align":"center","baseline":"alphabetic"},"encoding":{"x":{"datum":698,"scale":{"domain":[0,1000],"range":[0,1000],"nice":false},"axis":null},"y":{"datum":465,"scale":{"domain":[0,800],"range":[0,800],"nice":false},"axis":null}}},
 {"mark":{"type":"text","text":"e","fontSize":21,"fontWeight":"bold","align":"center","baseline":"alphabetic","color":"#000000"},"encoding":{"x":{"datum":853,"scale":{"domain":[0,1000],"range":[0,1000],"nice":false},"axis":null},"y":{"datum":324,"scale":{"domain":[0,800],"range":[0,800],"nice":false},"axis":null}}},
 {"mark":{"type":"text","text":"empirical test statistic","fontSize":21,"angle":270,"align":"left","baseline":"middle"},"encoding":{"x":{"datum":882.7,"scale":{"domain":[0,1000],"range":[0,1000],"nice":false},"axis":null},"y":{"datum":330,"scale":{"domain":[0,800],"range":[0,800],"nice":false},"axis":null}}},
 {"mark":{"type":"text","text":"benchmark test statistics","fontSize":21,"angle":270,"align":"left","baseline":"middle"},"encoding":{"x":{"datum":908,"scale":{"domain":[0,1000],"range":[0,1000],"nice":false},"axis":null},"y":{"datum":330,"scale":{"domain":[0,800],"range":[0,800],"nice":false},"axis":null}}}
]},
{"layer":[
 {"data":{"name":"box"},"mark":{"type":"rule","stroke":"#222222","strokeWidth":1.8},"encoding":{
  "x":{"field":"g","type":"nominal","scale":{"domain":["empirical","benchmark"],"range":[867,923],"paddingInner":0,"paddingOuter":0},"axis":null},
  "y":{"field":"q3","type":"quantitative","scale":{"domain":[0,1],"range":[527,334],"nice":false,"zero":false},"axis":null},
  "y2":{"field":"hi"}}},
 {"data":{"name":"box"},"mark":{"type":"rule","stroke":"#222222","strokeWidth":1.8},"encoding":{
  "x":{"field":"g","type":"nominal","scale":{"domain":["empirical","benchmark"],"range":[867,923],"paddingInner":0,"paddingOuter":0},"axis":null},
  "y":{"field":"lo","type":"quantitative","scale":{"domain":[0,1],"range":[527,334],"nice":false,"zero":false},"axis":null},
  "y2":{"field":"q1"}}},
 {"data":{"name":"box"},"mark":{"type":"bar","width":{"band":0.69},"fillOpacity":0,"stroke":"#222222","strokeWidth":2},"encoding":{
  "x":{"field":"g","type":"nominal","scale":{"domain":["empirical","benchmark"],"range":[867,923],"paddingInner":0,"paddingOuter":0},"axis":null},
  "y":{"field":"q3","type":"quantitative","scale":{"domain":[0,1],"range":[527,334],"nice":false,"zero":false},"axis":null},
  "y2":{"field":"q1"}}},
 {"data":{"name":"box"},"mark":{"type":"tick","size":19,"thickness":2,"color":"#222222","opacity":1},"encoding":{
  "x":{"field":"g","type":"nominal","scale":{"domain":["empirical","benchmark"],"range":[867,923],"paddingInner":0,"paddingOuter":0},"axis":null},
  "y":{"field":"med","type":"quantitative","scale":{"domain":[0,1],"range":[527,334],"nice":false,"zero":false},"axis":null}}},
 {"data":{"name":"box"},"mark":{"type":"tick","size":10,"thickness":2,"color":"#222222","opacity":1},"encoding":{
  "x":{"field":"g","type":"nominal","scale":{"domain":["empirical","benchmark"],"range":[867,923],"paddingInner":0,"paddingOuter":0},"axis":null},
  "y":{"field":"hi","type":"quantitative","scale":{"domain":[0,1],"range":[527,334],"nice":false,"zero":false},"axis":null}}},
 {"data":{"name":"box"},"mark":{"type":"tick","size":10,"thickness":2,"color":"#222222","opacity":1},"encoding":{
  "x":{"field":"g","type":"nominal","scale":{"domain":["empirical","benchmark"],"range":[867,923],"paddingInner":0,"paddingOuter":0},"axis":null},
  "y":{"field":"lo","type":"quantitative","scale":{"domain":[0,1],"range":[527,334],"nice":false,"zero":false},"axis":null}}},
 {"data":{"name":"emp"},"mark":{"type":"point","filled":true,"shape":"circle","size":80,"color":"#111111","opacity":1},"encoding":{
  "x":{"field":"g","type":"nominal","scale":{"domain":["empirical","benchmark"],"range":[867,923],"paddingInner":0,"paddingOuter":0},"axis":null},
  "y":{"field":"v","type":"quantitative","scale":{"domain":[0,1],"range":[527,334],"nice":false,"zero":false},"axis":null}}}
]},
{"data":{"name":"pts"},"mark":{"type":"point","filled":true,"shape":"square","size":5,"color":"#b8123a","opacity":0.95},"encoding":{
  "x":{"field":"j","type":"quantitative","scale":{"domain":[-1,1],"range":[900.5,918.5],"nice":false,"zero":false},"axis":null},
  "y":{"field":"v","type":"quantitative","scale":{"domain":[0,1],"range":[527,334],"nice":false,"zero":false},"axis":{"orient":"right","offset":-51,"values":[0,1],"format":"d","title":null,"grid":false,"tickSize":4,"tickWidth":1.5,"tickColor":"#555555","domainColor":"#555555","domainWidth":1.5,"labelFont":"Liberation Sans","labelFontSize":21,"labelColor":"#555555","labelPadding":5}}}}
],
"resolve":{"scale":{"x":"independent","y":"independent","fill":"independent","stroke":"independent"}}
}
